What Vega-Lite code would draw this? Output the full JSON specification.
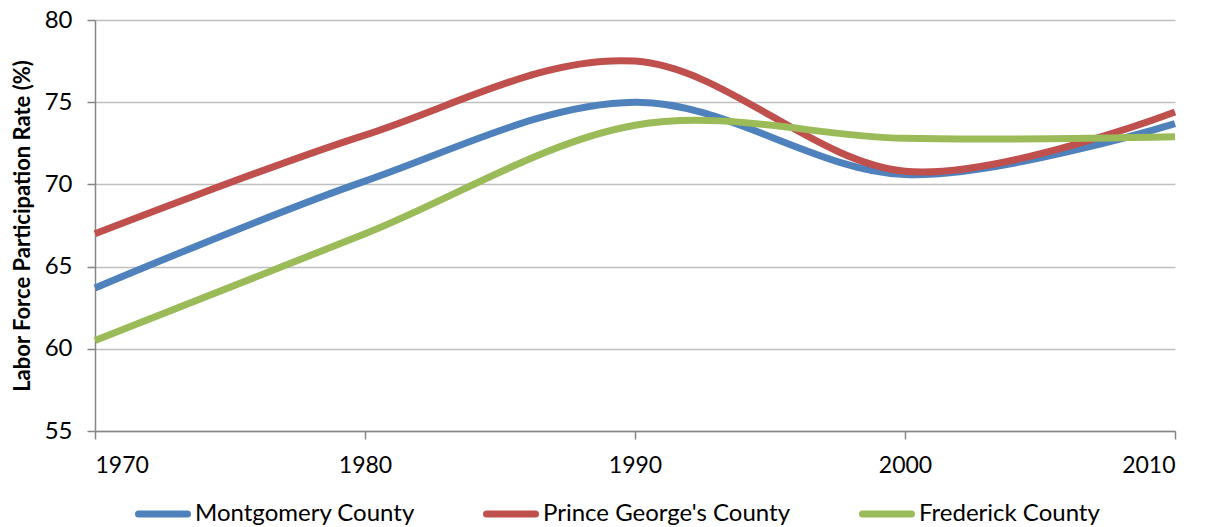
{
  "$schema": "https://vega.github.io/schema/vega-lite/v6.json",
  "width": 1080,
  "height": 411,
  "autosize": {"type": "none"},
  "padding": {"left": 95, "top": 20, "right": 36, "bottom": 96},
  "background": "white",
  "config": {
    "font": "Lato",
    "view": {"stroke": null}
  },
  "data": {
    "values": [
      {"year": 1970, "county": "Montgomery County", "rate": 63.7},
      {"year": 1980, "county": "Montgomery County", "rate": 70.2},
      {"year": 1990, "county": "Montgomery County", "rate": 75.0},
      {"year": 2000, "county": "Montgomery County", "rate": 70.6},
      {"year": 2010, "county": "Montgomery County", "rate": 73.7},
      {"year": 1970, "county": "Prince George's County", "rate": 67.0},
      {"year": 1980, "county": "Prince George's County", "rate": 73.0},
      {"year": 1990, "county": "Prince George's County", "rate": 77.5},
      {"year": 2000, "county": "Prince George's County", "rate": 70.8},
      {"year": 2010, "county": "Prince George's County", "rate": 74.4},
      {"year": 1970, "county": "Frederick County", "rate": 60.5},
      {"year": 1980, "county": "Frederick County", "rate": 67.0},
      {"year": 1990, "county": "Frederick County", "rate": 73.6},
      {"year": 2000, "county": "Frederick County", "rate": 72.8},
      {"year": 2010, "county": "Frederick County", "rate": 72.9}
    ]
  },
  "mark": {"type": "line", "interpolate": "cardinal", "strokeWidth": 7, "strokeCap": "butt"},
  "encoding": {
    "x": {
      "field": "year",
      "type": "quantitative",
      "scale": {"domain": [1970, 2010], "nice": false, "zero": false},
      "axis": {
        "title": null,
        "values": [1970, 1980, 1990, 2000, 2010],
        "format": "d",
        "grid": false,
        "domainColor": "#868686",
        "domainWidth": 1.5,
        "tickColor": "#868686",
        "tickWidth": 1.5,
        "tickSize": 8,
        "labelFontSize": 23,
        "labelColor": "#000000",
        "labelPadding": 15,
        "labelFont": "Lato"
      }
    },
    "y": {
      "field": "rate",
      "type": "quantitative",
      "scale": {"domain": [55, 80], "nice": false, "zero": false},
      "axis": {
        "title": "Labor Force Participation Rate (%)",
        "titleFontSize": 22,
        "titleFontWeight": "bold",
        "titleColor": "#000000",
        "titleX": -73,
        "titleY": 205.5,
        "titleAngle": -90,
        "titleBaseline": "middle",
        "titleAlign": "center",
        "values": [55, 60, 65, 70, 75, 80],
        "grid": true,
        "gridColor": "#BFBFBF",
        "gridWidth": 1.5,
        "domainColor": "#868686",
        "domainWidth": 1.5,
        "tickColor": "#868686",
        "tickWidth": 1.5,
        "tickSize": 8,
        "labelFontSize": 24,
        "labelColor": "#000000",
        "labelPadding": 15,
        "labelFont": "Lato"
      }
    },
    "color": {
      "field": "county",
      "type": "nominal",
      "sort": ["Montgomery County", "Prince George's County", "Frederick County"],
      "scale": {
        "domain": ["Montgomery County", "Prince George's County", "Frederick County"],
        "range": ["#4F81BD", "#C0504D", "#9BBB59"]
      },
      "legend": {
        "title": null,
        "orient": "none",
        "direction": "horizontal",
        "legendX": 40,
        "legendY": 466,
        "symbolType": "stroke",
        "symbolSize": 2400,
        "symbolStrokeWidth": 7,
        "labelFontSize": 24,
        "labelColor": "#000000",
        "labelOffset": 4,
        "columnPadding": 57,
        "labelLimit": 400,
        "encode": {"symbols": {"update": {"strokeCap": {"value": "round"}}}}
      }
    }
  }
}
